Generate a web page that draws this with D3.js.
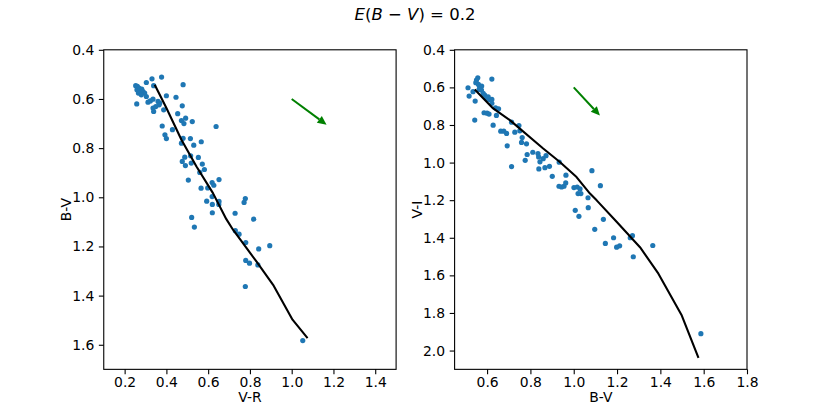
<!DOCTYPE html>
<html>
<head>
<meta charset="utf-8">
<script src="https://cdn.jsdelivr.net/npm/d3@7"></script>
<style>
  body { margin: 0; background: #fff; }
  svg text { font-family: "DejaVu Sans", sans-serif; fill: #000; }
</style>
</head>
<body>
<div id="chart"></div>
<script>
// ---- data ----
// left panel: stars, V-R vs B-V
const leftVR = [0.253,0.261,0.269,0.259,0.272,0.282,0.288,0.266,0.296,0.280,0.304,0.258,0.312,0.323,0.336,0.360,0.368,0.336,0.349,0.339,0.365,0.304,0.331,0.377,0.339,
  0.480,0.400,0.446,0.476,0.387,0.454,0.472,0.492,0.484,0.524,0.380,0.429,0.393,0.400,0.638,0.480,0.515,0.567,0.472,0.531,0.488,0.516,0.553,0.476,0.491,0.519,
  0.572,0.582,0.560,0.505,0.566,0.598,0.619,0.627,0.652,0.619,0.593,0.620,0.652,0.651,0.778,0.772,0.620,0.729,0.521,0.818,0.534,0.730,0.748,0.780,0.895,0.842,
  0.780,0.798,0.838,0.778,1.053];
const leftBV = [0.546,0.549,0.556,0.563,0.566,0.560,0.570,0.576,0.576,0.583,0.590,0.620,0.613,0.608,0.601,0.610,0.617,0.637,0.631,0.651,0.624,0.533,0.518,0.511,0.546,
  0.542,0.587,0.593,0.628,0.644,0.660,0.688,0.678,0.700,0.692,0.710,0.725,0.746,0.761,0.712,0.760,0.761,0.774,0.780,0.788,0.837,0.831,0.838,0.854,0.871,0.861,
  0.865,0.887,0.899,0.930,0.963,0.962,0.940,0.951,0.928,0.997,1.016,1.029,1.017,1.029,1.005,1.021,1.063,1.065,1.082,1.089,1.121,1.136,1.150,1.184,1.197,1.210,
  1.257,1.268,1.275,1.363,1.583];

// right panel: stars, B-V vs V-I
const rightBV = [0.512,0.517,0.535,0.545,0.543,0.548,0.551,0.557,0.560,0.566,0.575,0.574,0.563,0.582,0.589,0.605,0.609,0.622,0.622,0.597,0.622,0.639,0.653,0.643,
  0.586,0.600,0.609,0.628,0.663,0.677,0.690,0.713,0.728,0.747,0.751,0.762,0.759,0.782,0.693,0.785,0.811,0.835,0.838,0.859,0.872,0.844,0.776,0.713,0.839,0.867,
  0.888,0.933,0.901,0.964,0.932,0.944,0.955,0.963,1.001,1.016,1.029,1.020,1.033,1.084,1.123,1.066,1.067,1.007,1.024,1.137,1.097,1.184,1.146,1.198,1.212,1.271,
  1.261,1.275,1.365,1.587];
const rightVI = [0.602,0.646,0.623,0.673,0.774,0.575,0.561,0.549,0.584,0.597,0.593,0.614,0.611,0.632,0.641,0.650,0.664,0.664,0.685,0.659,0.556,0.709,0.714,0.749,
  0.735,0.737,0.742,0.801,0.833,0.833,0.845,0.785,0.838,0.803,0.831,0.867,0.893,0.900,0.911,0.957,0.945,0.952,0.970,0.979,0.963,0.996,0.988,1.021,1.034,1.027,
  1.020,0.998,1.073,1.067,1.126,1.130,1.126,1.108,1.133,1.130,1.140,1.165,1.165,1.043,1.123,1.187,1.240,1.254,1.286,1.302,1.355,1.400,1.430,1.450,1.443,1.389,
  1.400,1.501,1.441,1.910];

// model sequence (black line)
const isoLeftVR  = [0.344,0.400,0.472,0.544,0.623,0.687,0.719,0.831,0.911,1.004,1.076];
const isoLeftBV  = [0.542,0.637,0.766,0.875,0.983,1.089,1.132,1.261,1.356,1.498,1.573];
const isoRightBV = [0.543,0.628,0.705,0.859,0.936,1.013,1.075,1.106,1.199,1.306,1.391,1.499,1.576];
const isoRightVI = [0.611,0.712,0.774,0.925,0.997,1.077,1.165,1.201,1.316,1.450,1.591,1.814,2.039];

// reddening arrows: [start, tip]
const arrowLeft  = [[1.0, 0.6], [1.167, 0.705]];
const arrowRight = [[1.0, 0.6], [1.121, 0.750]];

const leftXTicks  = [0.2,0.4,0.6,0.8,1.0,1.2,1.4];
const leftYTicks  = [0.4,0.6,0.8,1.0,1.2,1.4,1.6];
const rightXTicks = [0.6,0.8,1.0,1.2,1.4,1.6,1.8];
const rightYTicks = [0.4,0.6,0.8,1.0,1.2,1.4,1.6,1.8,2.0];

const width = 830, height = 415;
const blue = "#1f77b4";

const svg = d3.select("#chart").append("svg")
    .attr("width", width)
    .attr("height", height);

// title (mathtext style)
const title = svg.append("text")
    .attr("x", 415).attr("y", 19.5)
    .attr("text-anchor", "middle")
    .style("font-size", "16.5px");
title.append("tspan").style("font-style", "italic").text("E");
title.append("tspan").text("(");
title.append("tspan").style("font-style", "italic").text("B");
title.append("tspan").text(" \u2212 ");
title.append("tspan").style("font-style", "italic").text("V");
title.append("tspan").text(") = 0.2");

function panel(box, xDomain, yDomain, xTicks, yTicks, xs, ys, isoX, isoY, arrow, xLabel, yLabel) {
    const x = d3.scaleLinear().domain(xDomain).range([box.x0, box.x1]);
    const y = d3.scaleLinear().domain(yDomain).range([box.y0, box.y1]);

    const g = svg.append("g");

    // stars
    g.append("g").selectAll("circle")
        .data(xs.map((v, i) => [v, ys[i]]))
        .enter()
        .append("circle")
        .attr("cx", d => x(d[0]))
        .attr("cy", d => y(d[1]))
        .attr("r", 2.6)
        .attr("fill", blue);

    // model line
    g.append("path")
        .datum(isoX.map((v, i) => [v, isoY[i]]))
        .attr("fill", "none")
        .attr("stroke", "#000")
        .attr("stroke-width", 2.1)
        .attr("stroke-linejoin", "round")
        .attr("d", d3.line().x(d => x(d[0])).y(d => y(d[1])));

    // reddening arrow
    const x1 = x(arrow[0][0]), y1 = y(arrow[0][1]);
    const x2 = x(arrow[1][0]), y2 = y(arrow[1][1]);
    const ang = Math.atan2(y2 - y1, x2 - x1);
    const hl = 9, hw = 4.2;
    const bx = x2 - hl * Math.cos(ang), by = y2 - hl * Math.sin(ang);
    g.append("line")
        .attr("x1", x1).attr("y1", y1)
        .attr("x2", bx).attr("y2", by)
        .attr("stroke", "green")
        .attr("stroke-width", 2);
    g.append("path")
        .attr("d", `M${x2},${y2}L${bx + hw * Math.sin(ang)},${by - hw * Math.cos(ang)}L${bx - hw * Math.sin(ang)},${by + hw * Math.cos(ang)}Z`)
        .attr("fill", "green");

    // axes
    const xAxis = svg.append("g")
        .attr("transform", `translate(0,${box.y1})`)
        .call(d3.axisBottom(x).tickValues(xTicks).tickFormat(d3.format(".1f")).tickSize(4.9).tickPadding(2.8).tickSizeOuter(0));
    const yAxis = svg.append("g")
        .attr("transform", `translate(${box.x0},0)`)
        .call(d3.axisLeft(y).tickValues(yTicks).tickFormat(d3.format(".1f")).tickSize(4.9).tickPadding(4.6).tickSizeOuter(0));
    [xAxis, yAxis].forEach(a => {
        a.select(".domain").remove();
        a.selectAll("line").attr("stroke", "#000").attr("stroke-width", 1.1);
        a.selectAll("text").style("font-size", "13.9px").attr("font-family", "DejaVu Sans");
    });

    // frame
    svg.append("rect")
        .attr("x", box.x0).attr("y", box.y0)
        .attr("width", box.x1 - box.x0).attr("height", box.y1 - box.y0)
        .attr("fill", "none")
        .attr("stroke", "#000")
        .attr("stroke-width", 1.1);

    svg.append("text")
        .attr("x", (box.x0 + box.x1) / 2)
        .attr("y", 402)
        .attr("text-anchor", "middle")
        .style("font-size", "13.9px")
        .text(xLabel);

    svg.append("text")
        .attr("transform", `translate(${box.x0 - 32.6},${(box.y0 + box.y1) / 2}) rotate(-90)`)
        .attr("text-anchor", "middle")
        .style("font-size", "13.9px")
        .text(yLabel);
}

panel({ x0: 103.75, x1: 396.1, y0: 49.8, y1: 369.35 }, [0.1, 1.5], [0.4, 1.7],
    leftXTicks, leftYTicks, leftVR, leftBV, isoLeftVR, isoLeftBV, arrowLeft, "V-R", "B-V");

panel({ x0: 454.6, x1: 747, y0: 49.8, y1: 369.35 }, [0.45, 1.8], [0.4, 2.1],
    rightXTicks, rightYTicks, rightBV, rightVI, isoRightBV, isoRightVI, arrowRight, "B-V", "V-I");
</script>
</body>
</html>
